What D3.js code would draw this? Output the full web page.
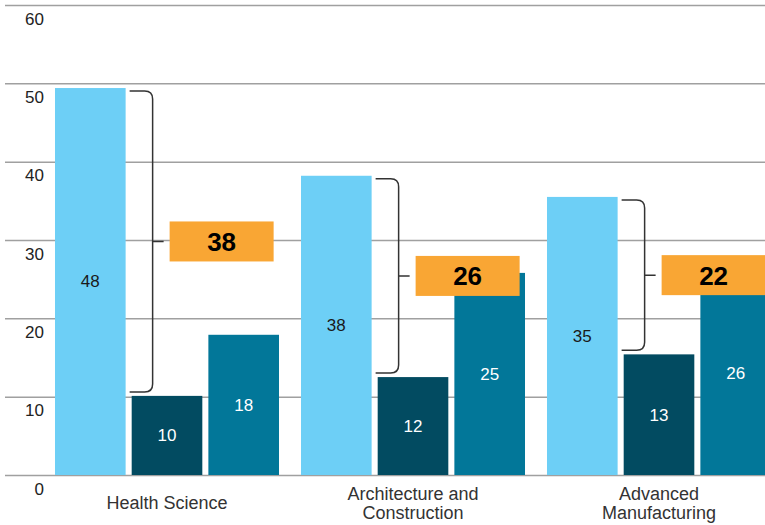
<!DOCTYPE html>
<html>
<head>
<meta charset="utf-8">
<script src="https://cdn.jsdelivr.net/npm/d3@7"></script>
<style>
  body { margin: 0; background: #fff; }
  text { font-family: "Liberation Sans", Arial, sans-serif; }
</style>
</head>
<body>
<div id="chart"></div>
<script>
var categories = ["Health Science", "Architecture and Construction", "Advanced Manufacturing"];
var categoryLines = [["Health Science"], ["Architecture and", "Construction"], ["Advanced", "Manufacturing"]];
var seriesKeys = ["light", "dark", "mid"];

// bar heights as drawn, and the numbers printed on them
var lightValues = [49.4, 38.2, 35.5];
var darkValues = [10.1, 12.5, 15.4];
var midValues = [17.9, 25.8, 26];
var lightLabels = [48, 38, 35];
var darkLabels = [10, 12, 13];
var midLabels = [18, 25, 26];
var gapValues = [38, 26, 22];

var yTicks = [0, 10, 20, 30, 40, 50, 60];

var width = 765,
    height = 525;

var colors = { light: "#6dcff6", dark: "#024b61", mid: "#027799" };
var labelColors = { light: "#1a1a1a", dark: "#fff", mid: "#fff" };

var svg = d3.select("#chart").append("svg")
    .attr("width", width)
    .attr("height", height);

var y = d3.scaleLinear().domain([0, 60]).range([475, 5]);

var x0 = d3.scaleBand()
    .domain(categories)
    .range([44, 782])
    .paddingInner(0.0894)
    .paddingOuter(0.0447);

var x1 = d3.scaleBand()
    .domain(seriesKeys)
    .range([0, x0.bandwidth()])
    .paddingInner(0.079);

// gridlines + tick labels
var axis = svg.append("g")
    .attr("transform", "translate(5,0)")
    .call(d3.axisLeft(y).tickValues(yTicks).tickSize(-760).tickFormat(d3.format("d")));
axis.select(".domain").remove();
axis.selectAll(".tick line").attr("stroke", "#a0a0a0").attr("stroke-width", 1.5);
axis.selectAll(".tick text")
    .attr("x", 39)
    .attr("dy", null)
    .attr("y", 19)
    .attr("text-anchor", "end")
    .attr("fill", "#222")
    .style("font-size", "17px");

var rows = categories.map(function(c, i) {
    return {
        cat: c,
        lines: categoryLines[i],
        gap: gapValues[i],
        bars: [
            { key: "light", value: lightValues[i], label: lightLabels[i] },
            { key: "dark", value: darkValues[i], label: darkLabels[i] },
            { key: "mid", value: midValues[i], label: midLabels[i] }
        ]
    };
});

var groups = svg.selectAll("g.group")
    .data(rows)
    .enter().append("g")
    .attr("class", "group")
    .attr("transform", function(d) { return "translate(" + x0(d.cat) + ",0)"; });

groups.selectAll("rect.bar")
    .data(function(d) { return d.bars; })
    .enter().append("rect")
    .attr("class", "bar")
    .attr("x", function(d) { return x1(d.key); })
    .attr("y", function(d) { return y(d.value); })
    .attr("width", x1.bandwidth())
    .attr("height", function(d) { return y(0) - y(d.value); })
    .attr("fill", function(d) { return colors[d.key]; });

groups.selectAll("text.val")
    .data(function(d) { return d.bars; })
    .enter().append("text")
    .attr("class", "val")
    .attr("x", function(d) { return x1(d.key) + x1.bandwidth() / 2; })
    .attr("y", function(d) { return (y(d.value) + y(0)) / 2; })
    .attr("dy", "0.35em")
    .attr("text-anchor", "middle")
    .attr("fill", function(d) { return labelColors[d.key]; })
    .style("font-size", "17px")
    .text(function(d) { return d.label; });

// brackets and gap badges
groups.each(function(d) {
    var g = d3.select(this);
    var lightRight = x1("light") + x1.bandwidth();
    var xs = lightRight + 4,
        xv = lightRight + 27,
        r = 8,
        top = y(d.bars[0].value) + 3,
        bottom = y(d.bars[1].value) - 4,
        mid = (top + bottom) / 2;

    g.append("path")
        .attr("d", "M" + xs + "," + top + "H" + (xv - r) +
            "Q" + xv + "," + top + " " + xv + "," + (top + r) +
            "V" + (bottom - r) +
            "Q" + xv + "," + bottom + " " + (xv - r) + "," + bottom +
            "H" + xs +
            "M" + xv + "," + mid + "H" + (xv + 11))
        .attr("fill", "none")
        .attr("stroke", "#333")
        .attr("stroke-width", 1.5);

    g.append("rect")
        .attr("x", xv + 17)
        .attr("y", mid - 20)
        .attr("width", 104)
        .attr("height", 40)
        .attr("fill", "#f9a634");

    g.append("text")
        .attr("x", xv + 17 + 52)
        .attr("y", mid)
        .attr("dy", "0.36em")
        .attr("text-anchor", "middle")
        .attr("fill", "#000")
        .style("font-size", "26px")
        .style("font-weight", "bold")
        .text(d.gap);

    var t = g.append("text")
        .attr("text-anchor", "middle")
        .attr("fill", "#333")
        .style("font-size", "18px");
    var n = d.lines.length;
    d.lines.forEach(function(line, k) {
        t.append("tspan")
            .attr("x", x0.bandwidth() / 2)
            .attr("y", 509 + (k - (n - 1) / 2) * 19)
            .text(line);
    });
});
</script>
</body>
</html>
